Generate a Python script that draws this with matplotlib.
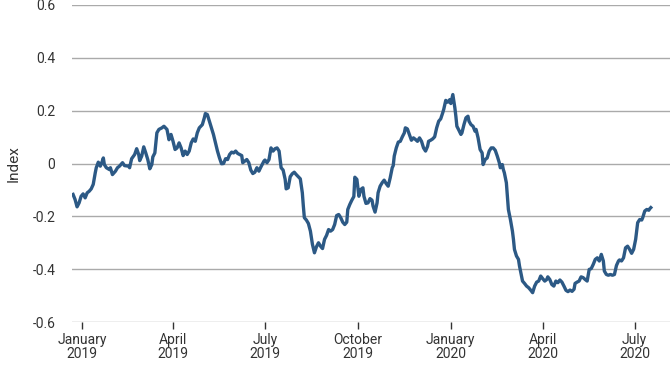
import pandas as pd
import matplotlib
matplotlib.use("Agg")
import matplotlib.pyplot as plt
import matplotlib.dates as mdates
from matplotlib.ticker import FuncFormatter

plt.rcParams['font.family'] = ['Roboto', 'DejaVu Sans']
plt.rcParams['axes.unicode_minus'] = False

# days counted from 1 January 2019
days = [-9, -7, -5, -3, -1, 1, 3, 5, 7, 9, 11, 13, 14, 16, 18, 20, 21, 22, 24, 27,
        28, 30, 33, 35, 37, 40, 42, 46, 47, 49, 52, 54, 56, 57, 59, 61, 63, 65, 67, 69,
        70, 72, 74, 76, 79, 81, 84, 86, 88, 90, 92, 94, 96, 98, 100, 102, 104, 106, 108, 110,
        112, 114, 116, 119, 121, 122, 124, 126, 128, 130, 132, 134, 136, 138, 140, 142, 144, 146, 148, 150,
        152, 154, 156, 158, 159, 161, 163, 165, 167, 169, 171, 173, 175, 177, 180, 181, 183, 185, 187, 189,
        191, 193, 195, 196, 197, 199, 201, 202, 204, 206, 208, 210, 212, 214, 216, 218, 219, 220, 222, 224,
        226, 228, 230, 232, 234, 236, 238, 240, 242, 244, 246, 248, 250, 252, 254, 256, 258, 260, 262, 263,
        265, 267, 269, 270, 272, 274, 275, 276, 278, 279, 281, 283, 285, 287, 288, 290, 292, 293, 295, 297,
        299, 301, 303, 305, 307, 308, 309, 311, 313, 315, 317, 319, 320, 322, 324, 326, 328, 330, 332, 334,
        336, 338, 340, 342, 343, 345, 347, 349, 351, 353, 355, 357, 358, 360, 362, 364, 365, 367, 369, 370,
        371, 373, 375, 376, 378, 380, 382, 383, 385, 387, 389, 390, 392, 394, 396, 397, 399, 401, 403, 405,
        407, 409, 411, 413, 414, 416, 417, 418, 420, 421, 422, 424, 426, 427, 428, 430, 432, 433, 434, 436,
        438, 440, 442, 444, 446, 448, 450, 452, 454, 456, 458, 460, 461, 463, 465, 467, 469, 471, 473, 475,
        477, 479, 481, 483, 485, 487, 488, 490, 492, 494, 496, 498, 500, 502, 504, 506, 508, 510, 512, 514,
        516, 517, 519, 521, 523, 525, 527, 529, 531, 532, 534, 536, 538, 540, 542, 544, 546, 548, 550, 552,
        554, 555, 557, 559, 561, 562, 563]

index_vals = [-0.117, -0.136, -0.164, -0.149, -0.124, -0.115, -0.130, -0.111, -0.105, -0.096,
              -0.079, -0.035, -0.016, 0.005, -0.010, 0.009, 0.021, -0.004, -0.016, -0.023,
              -0.016, -0.042, -0.029, -0.016, -0.010, 0.003, -0.008, -0.010, -0.016, 0.018,
              0.034, 0.056, 0.034, 0.011, 0.028, 0.063, 0.040, 0.015, -0.020, -0.004,
              0.025, 0.040, 0.116, 0.129, 0.135, 0.141, 0.129, 0.090, 0.110, 0.084,
              0.053, 0.059, 0.078, 0.059, 0.030, 0.047, 0.034, 0.047, 0.078, 0.093,
              0.084, 0.116, 0.135, 0.147, 0.173, 0.189, 0.185, 0.160, 0.135, 0.110,
              0.078, 0.047, 0.021, -0.001, 0.000, 0.018, 0.015, 0.034, 0.043, 0.040,
              0.047, 0.038, 0.034, 0.030, 0.003, 0.009, 0.015, 0.003, -0.025, -0.038,
              -0.033, -0.016, -0.029, -0.013, 0.009, 0.013, 0.003, 0.015, 0.059, 0.047,
              0.056, 0.059, 0.047, 0.015, -0.016, -0.025, -0.060, -0.096, -0.092, -0.050,
              -0.039, -0.033, -0.042, -0.050, -0.058, -0.111, -0.161, -0.205, -0.214, -0.227,
              -0.256, -0.306, -0.338, -0.315, -0.300, -0.313, -0.322, -0.287, -0.272, -0.250,
              -0.256, -0.250, -0.231, -0.197, -0.193, -0.205, -0.222, -0.231, -0.222, -0.174,
              -0.155, -0.139, -0.125, -0.052, -0.060, -0.124, -0.111, -0.098, -0.092, -0.124,
              -0.151, -0.149, -0.133, -0.139, -0.161, -0.184, -0.149, -0.111, -0.086, -0.073,
              -0.063, -0.076, -0.086, -0.054, -0.016, -0.008, 0.028, 0.059, 0.081, 0.084,
              0.101, 0.116, 0.135, 0.131, 0.110, 0.088, 0.097, 0.091, 0.084, 0.097,
              0.084, 0.059, 0.047, 0.065, 0.084, 0.088, 0.093, 0.101, 0.135, 0.160,
              0.169, 0.192, 0.205, 0.239, 0.232, 0.242, 0.227, 0.261, 0.211, 0.179,
              0.141, 0.126, 0.110, 0.116, 0.147, 0.173, 0.179, 0.160, 0.147, 0.141,
              0.122, 0.129, 0.097, 0.053, 0.040, -0.004, 0.015, 0.021, 0.047, 0.059,
              0.059, 0.050, 0.028, 0.003, -0.016, -0.004, -0.023, -0.035, -0.073, -0.124,
              -0.174, -0.212, -0.256, -0.287, -0.325, -0.350, -0.363, -0.388, -0.407, -0.445,
              -0.454, -0.464, -0.470, -0.479, -0.489, -0.464, -0.449, -0.445, -0.426, -0.436,
              -0.445, -0.439, -0.429, -0.439, -0.458, -0.464, -0.445, -0.451, -0.441, -0.449,
              -0.464, -0.480, -0.485, -0.479, -0.484, -0.476, -0.454, -0.449, -0.445, -0.429,
              -0.432, -0.439, -0.445, -0.401, -0.398, -0.382, -0.363, -0.357, -0.369, -0.344,
              -0.369, -0.407, -0.420, -0.423, -0.420, -0.423, -0.420, -0.386, -0.369, -0.365,
              -0.369, -0.357, -0.319, -0.313, -0.325, -0.340, -0.325, -0.287, -0.224, -0.212,
              -0.214, -0.205, -0.180, -0.174, -0.177, -0.171, -0.167]

y_ticks = [-0.6, -0.4, -0.2, 0, 0.2, 0.4, 0.6]

base = pd.Timestamp('2019-01-01')
dates = base + pd.to_timedelta(days, unit='D')

fig = plt.figure(figsize=(6.7, 3.75), dpi=100)
ax = fig.add_axes([0.1075, 0.1413, 0.8925, 0.8454])

ax.plot(dates, index_vals, color='#2c5985', linewidth=2.4, solid_joinstyle='round')

ax.set_ylim(-0.6, 0.6)
ax.set_yticks(y_ticks)
ax.yaxis.set_major_formatter(FuncFormatter(lambda v, p: f"{v:g}"))
ax.set_xlim(base + pd.Timedelta(days=-10), base + pd.Timedelta(days=582))
ax.xaxis.set_major_locator(mdates.MonthLocator(bymonth=[1, 4, 7, 10]))
ax.xaxis.set_major_formatter(mdates.DateFormatter('%B\n%Y'))

ax.grid(axis='y', color='#aaaaaa', linewidth=1)
ax.set_axisbelow(True)
for s in ['top', 'right', 'left', 'bottom']:
    ax.spines[s].set_visible(False)

ax.tick_params(axis='y', length=0, pad=12, labelsize=10, labelcolor='#333333')
ax.tick_params(axis='x', length=5, width=1, color='#333333', pad=3,
               labelsize=10, labelcolor='#333333')
for lbl in ax.get_xticklabels():
    lbl.set_linespacing(1.0)

ax.set_ylabel('Index', fontsize=11, color='#333333', labelpad=8.5)

fig.savefig('out.png', dpi=100)
